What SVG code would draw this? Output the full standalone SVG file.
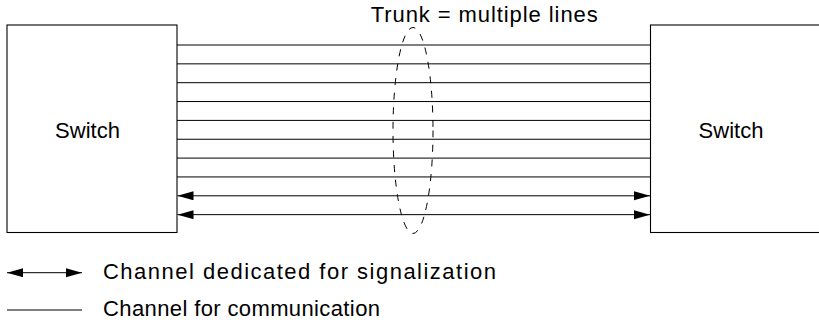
<svg xmlns="http://www.w3.org/2000/svg" width="819" height="320" viewBox="0 0 819 320">
<style>
.box{fill:#fff;stroke:#000;stroke-width:1.1}
.ln{stroke:#000;stroke-width:1;fill:none}
.t{font-family:"Liberation Sans",Arial,sans-serif;font-size:22px;fill:#000}
.trunk{fill:none;stroke:#000;stroke-width:1;stroke-dasharray:7 7.5}
</style>
<defs>
<marker id="ah" markerUnits="userSpaceOnUse" markerWidth="17" markerHeight="10" refX="16" refY="4.5" orient="auto-start-reverse" viewBox="0 0 17 10">
<path d="M0,0 L16,4.5 L0,9 Z" fill="#000"/>
</marker>
</defs>
<g id="switch-left">
<rect class="box" x="7" y="25" width="170" height="207.5"/>
<text class="t" x="87.5" y="138.3" text-anchor="middle" textLength="65">Switch</text>
</g>
<g id="switch-right">
<rect class="box" x="650.5" y="25" width="180" height="207.5"/>
<text class="t" x="731" y="138.3" text-anchor="middle" textLength="65">Switch</text>
</g>
<g id="connectors">
<line class="ln" x1="177" y1="45" x2="650.5" y2="45"/>
<line class="ln" x1="177" y1="63.85" x2="650.5" y2="63.85"/>
<line class="ln" x1="177" y1="82.7" x2="650.5" y2="82.7"/>
<line class="ln" x1="177" y1="101.55" x2="650.5" y2="101.55"/>
<line class="ln" x1="177" y1="120.4" x2="650.5" y2="120.4"/>
<line class="ln" x1="177" y1="139.25" x2="650.5" y2="139.25"/>
<line class="ln" x1="177" y1="158.1" x2="650.5" y2="158.1"/>
<line class="ln" x1="177" y1="176.95" x2="650.5" y2="176.95"/>
<line class="ln" x1="177.5" y1="195.8" x2="650" y2="195.8" marker-start="url(#ah)" marker-end="url(#ah)"/>
<line class="ln" x1="177.5" y1="214.65" x2="650" y2="214.65" marker-start="url(#ah)" marker-end="url(#ah)"/>
</g>
<g id="trunk">
<ellipse class="trunk" cx="413" cy="130.5" rx="20" ry="103"/>
<text class="t" x="370.7" y="22" textLength="227">Trunk = multiple lines</text>
</g>
<g id="legend">
<line class="ln" x1="7" y1="272.7" x2="82" y2="272.7" marker-start="url(#ah)" marker-end="url(#ah)"/>
<text class="t" x="103" y="279.3" textLength="393">Channel dedicated for signalization</text>
<line class="ln" x1="7" y1="310" x2="82" y2="310"/>
<text class="t" x="103" y="315.5" textLength="277">Channel for communication</text>
</g>
</svg>
